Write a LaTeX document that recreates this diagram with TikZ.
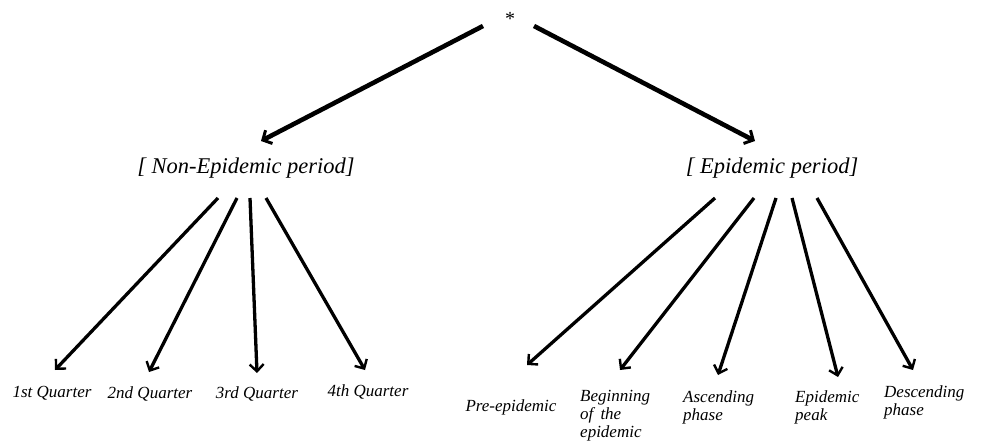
\documentclass[tikz,border=0pt]{standalone}
\usepackage{fontspec}
\setmainfont{Liberation Serif}
\usetikzlibrary{arrows.meta}
\begin{document}
\begin{tikzpicture}[x=1pt,y=-1pt,
  lbl/.style={font=\itshape\fontsize{17}{18}\selectfont, inner sep=0pt, align=left},
  head/.style={font=\itshape\fontsize{22.5}{24}\selectfont, inner sep=0pt},
  bigarrow/.style={line width=4.6pt, -{Straight Barb[length=7pt,width=15pt,line width=3pt]}},
  subarrow/.style={line width=3.3pt, -{Straight Barb[length=7pt,width=14pt,line width=2.4pt]}}]
\useasboundingbox (0,0) rectangle (990,441);
\node[font=\fontsize{20}{20}\selectfont, inner sep=0pt] (star) at (510,19) {*};
\node[head] (np) at (246,168) {[ Non-Epidemic period]};
\node[head] (ep) at (772,168) {[ Epidemic period]};
% bottom labels
\node[lbl] (q1) at (52,393) {1st Quarter};
\node[lbl] (q2) at (150,394) {2nd Quarter};
\node[lbl] (q3) at (257,394) {3rd Quarter};
\node[lbl] (q4) at (368,392) {4th Quarter};
\node[lbl] (pre) at (511,407) {Pre-epidemic};
\node[lbl, anchor=north west] (beg) at (580,390) {Beginning\\of\, the\\epidemic};
\node[lbl, anchor=north west] (asc) at (683,391) {Ascending\\phase};
\node[lbl, anchor=north west] (peak) at (795,391) {Epidemic\\peak};
\node[lbl, anchor=north west] (desc) at (884,386) {Descending\\phase};
% arrow end points
\coordinate (s1) at (483,26); \coordinate (t1) at (261,141);
\coordinate (s2) at (534,26); \coordinate (t2) at (755,141);
\coordinate (a1) at (218,198); \coordinate (b1) at (55,370);
\coordinate (a2) at (237,198); \coordinate (b2) at (149,372);
\coordinate (a3) at (250,198); \coordinate (b3) at (257,373);
\coordinate (a4) at (266,198); \coordinate (b4) at (365,370);
\coordinate (c1) at (715,198); \coordinate (d1) at (527,365);
\coordinate (c2) at (754,198); \coordinate (d2) at (620,370);
\coordinate (c3) at (776,198); \coordinate (d3) at (718,375);
\coordinate (c4) at (792,198); \coordinate (d4) at (838,377);
\coordinate (c5) at (817,198); \coordinate (d5) at (913,370);
\draw[bigarrow] (s1) -- (t1);
\draw[bigarrow] (s2) -- (t2);
\foreach \i in {1,2,3,4} \draw[subarrow] (a\i) -- (b\i);
\foreach \i in {1,2,3,4,5} \draw[subarrow] (c\i) -- (d\i);
\end{tikzpicture}
\end{document}
